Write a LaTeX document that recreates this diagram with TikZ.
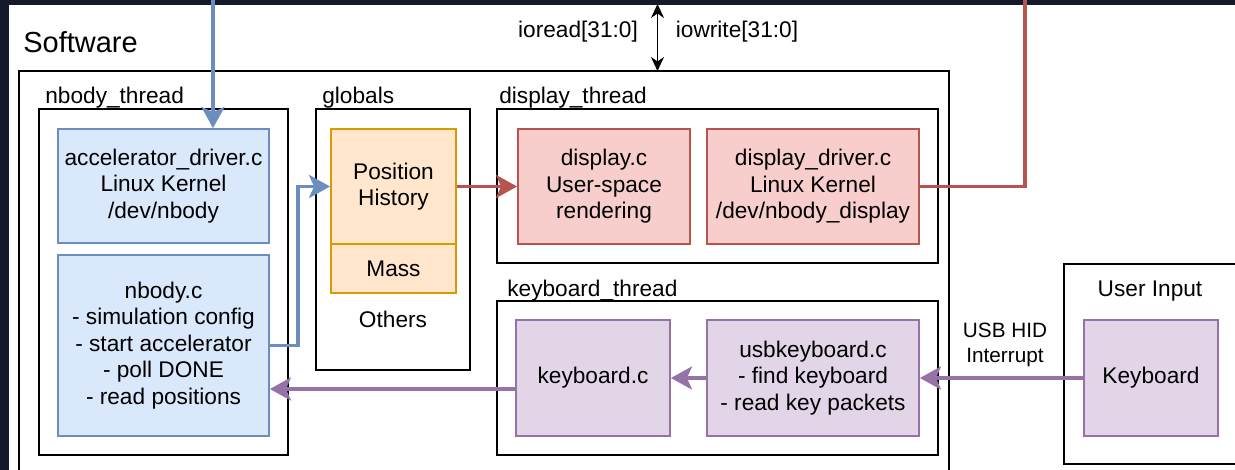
\documentclass[tikz,border=0pt]{standalone}
\usepackage{xcolor}
\usepackage{fontspec}
\setmainfont{Liberation Sans}
\usepackage{tikz}
\usetikzlibrary{arrows.meta, calc}

\definecolor{darkbg}{HTML}{141A2A}
\definecolor{bluefill}{HTML}{DAE8FC}
\definecolor{bluedraw}{HTML}{6C8EBF}
\definecolor{orangefill}{HTML}{FFE6CC}
\definecolor{orangedraw}{HTML}{D79B00}
\definecolor{redfill}{HTML}{F8CECC}
\definecolor{reddraw}{HTML}{B85450}
\definecolor{purplefill}{HTML}{E1D5E7}
\definecolor{purpledraw}{HTML}{9673A6}

\tikzset{
  txt/.style={font=\fontsize{12.9}{15.1}\selectfont, align=center},
  filebox/.style={txt, line width=1.1pt, minimum width=#1, inner sep=0pt},
  bluebox/.style={filebox=4.22cm, fill=bluefill, draw=bluedraw},
  redbox/.style={filebox=#1, fill=redfill, draw=reddraw, minimum height=2.3cm},
  purplebox/.style={filebox=#1, fill=purplefill, draw=purpledraw, minimum height=2.32cm},
  orangebox/.style={filebox=2.5cm, fill=orangefill, draw=orangedraw},
  group/.style={draw=black, line width=1.1pt},
  grouplabel/.style={txt, anchor=base west, inner sep=0pt},
  wire/.style={line width=1.9pt, -{Stealth[length=0.42cm, width=0.46cm, inset=0.1cm]}},
}

\begin{document}
\begin{tikzpicture}[x=0.02cm, y=-0.02cm]
  \useasboundingbox (0,0) rectangle (1235,470);
  \fill [white] (-10,-10) rectangle (1260,490);
  \fill [darkbg] (-10,-10) rectangle (1260,4.5);
  \fill [darkbg] (-10,-10) rectangle (8.5,490);

  % containers
  \draw [group] (19,71) rectangle (949,490);
  \draw [group] (39,109) rectangle (288,455);
  \draw [group] (316,109) rectangle (470,370);
  \draw [group] (497,109) rectangle (938,263);
  \draw [group] (497,301) rectangle (938,455);
  \draw [group] (1260,264) -- (1064,264) -- (1064,464) -- (1260,464);

  \node [grouplabel, font=\fontsize{16.5}{19}\selectfont] (swlabel) at (23,52) {Software};
  \node [grouplabel] (nbodylabel) at (45,103) {nbody\_thread};
  \node [grouplabel] (globlabel) at (322,103) {globals};
  \node [grouplabel] (displabel) at (499,103) {display\_thread};
  \node [grouplabel] (kbdlabel) at (507,296) {keyboard\_thread};
  \node [txt] (userlabel) at (1150,291) {User Input};

  % nbody_thread
  \node [bluebox, minimum height=2.28cm] (accdrv) at (163.5,186) {accelerator\_driver.c\\Linux Kernel\\/dev/nbody};
  \node [bluebox, minimum height=3.62cm] (nbodyc) at (163.5,345.5) {nbody.c\\- simulation config\\- start accelerator\\- poll DONE\\- read positions};

  % globals
  \node [orangebox, minimum height=2.3cm] (poshist) at (393.5,186.5) {Position\\History};
  \node [orangebox, minimum height=0.98cm] (mass) at (393.5,268.5) {Mass};
  \node [txt] (others) at (393,319) {Others};

  % display_thread
  \node [redbox=3.44cm] (dispc) at (604,186.5) {display.c\\User-space\\rendering};
  \node [redbox=4.24cm] (dispdrv) at (813,186.5) {display\_driver.c\\Linux Kernel\\/dev/nbody\_display};

  % keyboard_thread
  \node [purplebox=3.08cm] (kbdc) at (593,378) {keyboard.c};
  \node [purplebox=4.24cm] (usbkbd) at (813,378) {usbkeyboard.c\\- find keyboard\\- read key packets};
  \node [purplebox=2.68cm] (keyboard) at (1151,378) {Keyboard};

  % bus
  \coordinate (iotop) at (657.5,4);
  \coordinate (iobot) at (657.5,71);
  \draw [line width=1.1pt, {Stealth[length=0.28cm, width=0.26cm]}-{Stealth[length=0.28cm, width=0.26cm]}] (iotop) -- (iobot);
  \node [txt] (ioread) at (578,32) {ioread[31:0]};
  \node [txt] (iowrite) at (737,32) {iowrite[31:0]};

  % connectors
  \coordinate (accin) at (213,-10);
  \draw [wire, bluedraw] (accin) -- (accin |- accdrv.north);
  \draw [wire, bluedraw] (nbodyc.east) -- ++(28,0) |- (poshist.west);
  \draw [wire, reddraw] (poshist.east) -- (dispc.west);
  \coordinate (dispout) at (1025,-10);
  \draw [wire, reddraw, -] (dispdrv.east) -| (dispout);
  \draw [wire, purpledraw] (keyboard.west) -- (usbkbd.east);
  \draw [wire, purpledraw] (usbkbd.west) -- (kbdc.east);
  \draw [wire, purpledraw] ([yshift=-0.22cm]kbdc.west) -- ([yshift=-0.22cm]kbdc.west -| nbodyc.east);
  \node [txt, font=\fontsize{11.8}{14.2}\selectfont] (usbhid) at (1005,345) {USB HID\\Interrupt};
\end{tikzpicture}
\end{document}
